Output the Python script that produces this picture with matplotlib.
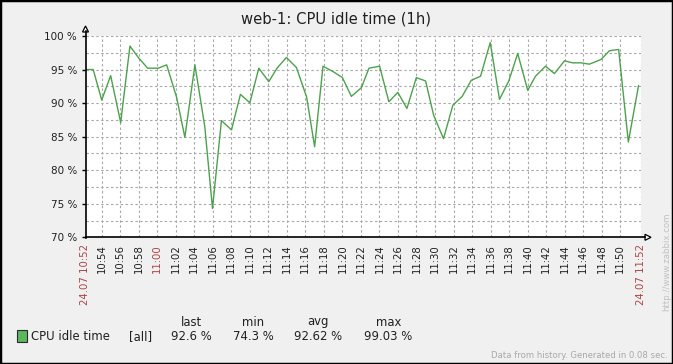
import matplotlib
matplotlib.use("Agg")
import matplotlib.pyplot as plt
import pandas as pd
from matplotlib.patches import Rectangle, Polygon
from matplotlib.lines import Line2D

title = "web-1: CPU idle time (1h)"
start_time = "2024-07-24 10:52:15"
span_minutes = 60
times = ["10:52:18","10:53:05","10:54:00","10:54:58","10:56:03","10:57:03","10:57:57","10:58:58",
         "11:00:06","11:01:01","11:02:05","11:02:59","11:04:04","11:05:08","11:05:58","11:06:56",
         "11:08:01","11:08:59","11:10:00","11:10:58","11:12:03","11:12:56","11:13:57","11:15:02",
         "11:16:08","11:17:00","11:17:54","11:18:59","11:20:00","11:20:58","11:22:03","11:22:52",
         "11:24:01","11:25:01","11:25:59","11:26:58","11:27:59","11:28:59","11:29:51","11:30:55",
         "11:31:56","11:32:56","11:33:55","11:34:55","11:35:58","11:36:58","11:37:58","11:38:56",
         "11:40:01","11:40:51","11:41:56","11:42:54","11:43:59","11:44:52","11:45:47","11:46:40",
         "11:47:56","11:48:50","11:49:50","11:50:53","11:51:59"]
cpu_idle = [95.0, 95.0, 90.45, 94.1, 87.1, 98.5, 96.8, 95.2,
            95.2, 95.7, 90.9, 84.9, 95.7, 86.5, 74.3, 87.4,
            86.0, 91.3, 90.05, 95.2, 93.2, 95.2, 96.8, 95.3,
            90.9, 83.5, 95.5, 94.7, 93.8, 91.0, 92.3, 95.2,
            95.5, 90.2, 91.6, 89.2, 93.8, 93.3, 88.2, 84.7,
            89.7, 91.0, 93.4, 94.0, 99.03, 90.55, 93.3, 97.4,
            91.9, 94.0, 95.5, 94.4, 96.3, 96.0, 96.0, 95.8,
            96.5, 97.8, 98.0, 84.2, 92.6]
tick_times = ["10:54","10:56","10:58","11:00","11:02","11:04","11:06","11:08","11:10","11:12",
              "11:14","11:16","11:18","11:20","11:22","11:24","11:26","11:28","11:30","11:32",
              "11:34","11:36","11:38","11:40","11:42","11:44","11:46","11:48","11:50"]
highlight_ticks = ["11:00"]
end_labels = ["24.07 10:52", "24.07 11:52"]
y_ticks = [70, 75, 80, 85, 90, 95, 100]
legend_name = "CPU idle time"
legend_func = "[all]"
stat_names = ["last", "min", "avg", "max"]
stat_values = ["92.6 %", "74.3 %", "92.62 %", "99.03 %"]
footer = "Data from history. Generated in 0.08 sec."
watermark = "http://www.zabbix.com"

W, H = 673, 364
BG = "#f0f0f0"
TXT = "#202020"
RED = "#aa4444"
GREEN = "#4ca24c"

fig = plt.figure(figsize=(W/100, H/100), dpi=100, facecolor=BG)

def fx(px): return px / W
def fy(py): return 1 - py / H

x0, x1, ytop, ybot = 85.5, 641, 36, 237.3
ax = fig.add_axes([fx(x0), fy(ybot), fx(x1) - fx(x0), fy(ytop) - fy(ybot)])
ax.set_facecolor("white")

t0 = pd.Timestamp(start_time)
day = t0.strftime("%Y-%m-%d ")
def to_min(s):
    return (pd.Timestamp(day + s) - t0).total_seconds() / 60.0

xs = [to_min(t) for t in times]
ax.plot(xs, cpu_idle, color=GREEN, lw=1.0, zorder=3)

ax.set_xlim(0, span_minutes)
ax.set_ylim(70, 100)

# grid
grid_kw = dict(color="#a8a8a8", lw=0.8, ls=(0, (2.2, 2.2)), zorder=1)
tick_pos = [to_min(t + ":00") for t in tick_times]
for p in tick_pos + [span_minutes]:
    ax.axvline(p, **grid_kw)
for v in [72.5, 75, 77.5, 80, 82.5, 85, 87.5, 90, 92.5, 95, 97.5, 100]:
    ax.axhline(v, **grid_kw)

for s in ["top", "right", "left", "bottom"]:
    ax.spines[s].set_visible(False)

ax.set_yticks(y_ticks)
ax.set_yticklabels([f"{v} %" for v in y_ticks], fontsize=7.5, color=TXT)
ax.tick_params(axis="y", length=3, width=1, color="black", pad=3)

all_pos = [0] + tick_pos + [span_minutes]
all_lab = [end_labels[0]] + tick_times + [end_labels[1]]
ax.set_xticks(all_pos)
ax.set_xticklabels(all_lab, rotation=90, fontsize=7.3, va="top", ha="center")
ax.tick_params(axis="x", length=0, pad=5)
for lbl, txt in zip(ax.get_xticklabels(), all_lab):
    lbl.set_color(RED if (txt in highlight_ticks or txt in end_labels) else TXT)

# axes lines with arrows
fig.add_artist(Line2D([fx(x0), fx(x0)], [fy(ybot + 1), fy(31)], color="black", lw=1.2))
fig.add_artist(Line2D([fx(x0), fx(645)], [fy(ybot), fy(ybot)], color="black", lw=1.2))
fig.add_artist(Polygon([[fx(x0 - 3), fy(32)], [fx(x0 + 3), fy(32)], [fx(x0), fy(26)]],
                       closed=True, facecolor="white", edgecolor="black", lw=0.9))
fig.add_artist(Polygon([[fx(645), fy(ybot - 3)], [fx(645), fy(ybot + 3)], [fx(651), fy(ybot)]],
                       closed=True, facecolor="white", edgecolor="black", lw=0.9))

# title
fig.text(fx(336), fy(19), title, ha="center", va="center", fontsize=10.6, color=TXT)

# legend
fig.add_artist(Rectangle((fx(17), fy(342)), fx(10), fy(330) - fy(342),
                         facecolor="#5cb85c", edgecolor="#2a2a2a", lw=0.8))
fs = 8.4
fig.text(fx(31), fy(336.5), legend_name, ha="left", va="center", fontsize=fs, color=TXT)
fig.text(fx(129), fy(336.5), legend_func, ha="left", va="center", fontsize=fs, color=TXT)
val_x = [171, 233, 294, 364]
name_cx = [191, 253, 318, 389]
for nm, val, vx, cx in zip(stat_names, stat_values, val_x, name_cx):
    fig.text(fx(cx), fy(322), nm, ha="center", va="center", fontsize=fs, color=TXT)
    fig.text(fx(vx), fy(336.5), val, ha="left", va="center", fontsize=fs, color=TXT)

fig.text(fx(668), fy(356), footer, ha="right", va="center", fontsize=6.1, color="#a8a8a8")
fig.text(fx(667), fy(262), watermark, ha="center", va="center", rotation=90,
         fontsize=6.2, color="#c0c0c0")

# border
fig.add_artist(Rectangle((0, 0), 1, 1, transform=fig.transFigure, fill=False,
                         edgecolor="black", lw=2.5))

fig.savefig("out.png", dpi=100, facecolor=BG)
